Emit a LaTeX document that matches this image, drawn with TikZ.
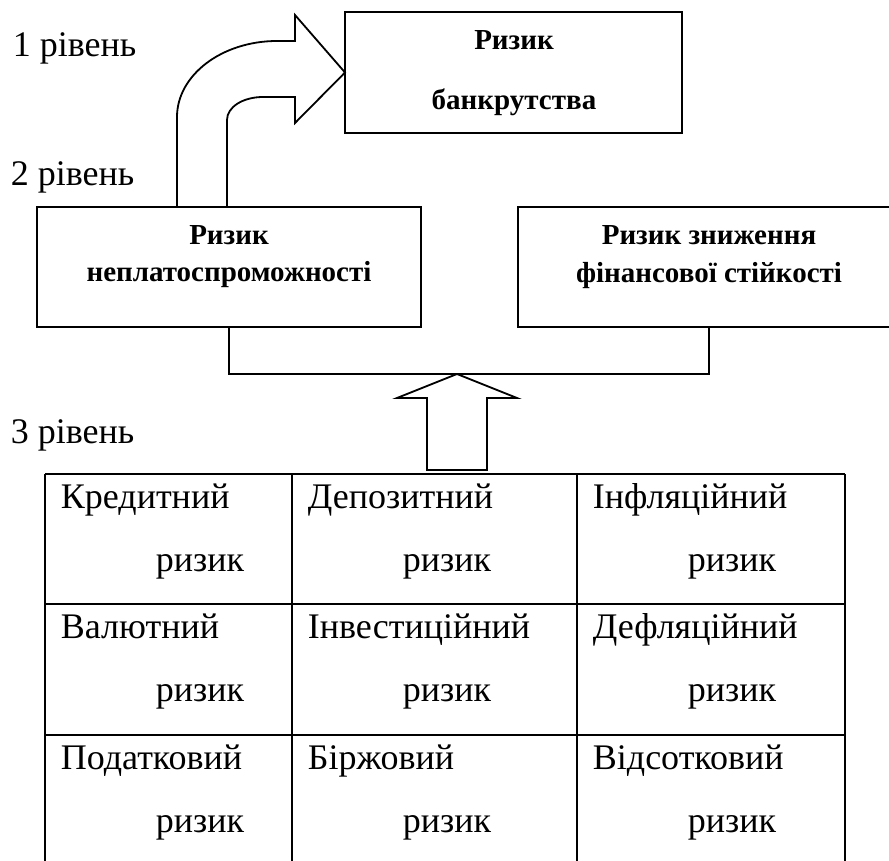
\documentclass[tikz,border=0pt]{standalone}
\usepackage{fontspec}
\setmainfont{Liberation Serif}
\begin{document}
\begin{tikzpicture}[x=1pt,y=-1pt,line width=1.8pt,line join=miter,
  box/.style={draw,inner sep=0pt,outer sep=0pt},
  lvl/.style={anchor=base west,inner sep=0pt,font=\fontsize{36}{40}\selectfont},
  btxt/.style={anchor=base,inner sep=0pt,font=\fontsize{29}{32}\selectfont\bfseries},
  ctxt/.style={anchor=base west,inner sep=0pt,font=\fontsize{36}{40}\selectfont},
  shapeline/.style={draw,line width=1.8pt}]
\useasboundingbox (0,0) rectangle (889,861);
\clip (0,0) rectangle (889,861);
% level labels
\node[lvl] (l1) at (12,57) {1 рівень};
\node[lvl] (l2) at (10,186) {2 рівень};
\node[lvl] (l3) at (10,443) {3 рівень};
% boxes
\node[box,minimum width=337pt,minimum height=121pt] (top) at (513.5,72.5) {};
\node[box,minimum width=384pt,minimum height=120pt] (left) at (229,267) {};
\node[box,minimum width=382pt,minimum height=120pt] (right) at (709,267) {};
\node[btxt] (t1) at (514,50) {Ризик};
\node[btxt] (t2) at (514,110) {банкрутства};
\node[btxt] (a1) at (229,245) {Ризик};
\node[btxt] (a2) at (229,281) {неплатоспроможності};
\node[btxt] (b1) at (709,244) {Ризик зниження};
\node[btxt] (b2) at (709,282) {фінансової стійкості};
% curved block arrow
\draw[shapeline] (177,207) -- (177,117) .. controls (177,75) and (222,41) .. (277,41)
  -- (295,41) -- (295,15) -- (top.west) -- (295,123) -- (295,97) -- (263,97)
  .. controls (243,97) and (227,107) .. (227,120) -- (227,207);
% bracket
\coordinate (bl) at (229,374);
\coordinate (br) at (709,374);
\draw (left.south) -- (bl) -- (br) -- (right.south);
% up block arrow
\coordinate (tip) at (457,374);
\draw[shapeline] (tip) -- (517,398) -- (487,398) -- (487,470) -- (427,470) -- (427,398) -- (397,398) -- cycle;
% table grid
\foreach \x in {45,292,577,845} \draw (\x,474) -- (\x,875);
\foreach \y in {474,604,735,865} \draw (45,\y) -- (845,\y);
% table cells
\foreach \w/\cx/\ry in {Кредитний/45/474, Депозитний/292/474, Інфляційний/577/474,
  Валютний/45/604, Інвестиційний/292/604, Дефляційний/577/604,
  Податковий/45/735, Біржовий/292/735, Відсотковий/577/735}{
  \node[ctxt] at (\cx+15,\ry+34) {\w};
  \node[ctxt] at (\cx+110,\ry+97) {ризик};
}
\end{tikzpicture}
\end{document}
